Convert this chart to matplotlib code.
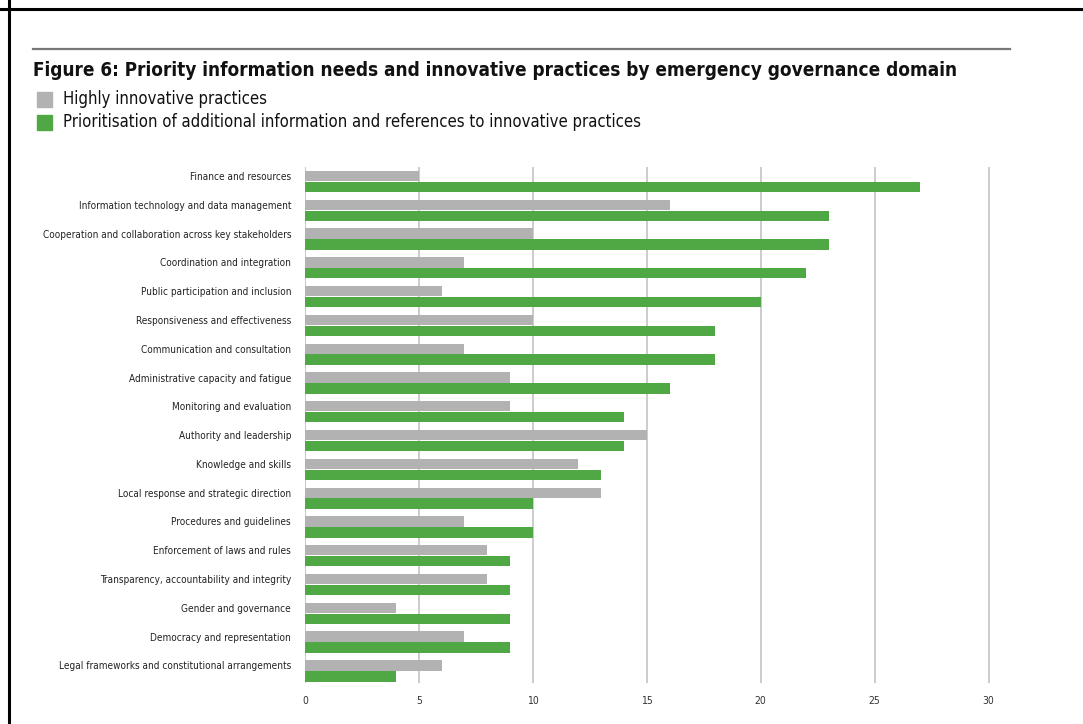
import numpy as np
import matplotlib
matplotlib.use("Agg")
import matplotlib.pyplot as plt
from matplotlib.lines import Line2D
from matplotlib.patches import Rectangle

plt.rcParams['font.family'] = ['DejaVu Sans']
plt.rcParams['font.stretch'] = 'condensed'

domains = [
    "Finance and resources",
    "Information technology and data management",
    "Cooperation and collaboration across key stakeholders",
    "Coordination and integration",
    "Public participation and inclusion",
    "Responsiveness and effectiveness",
    "Communication and consultation",
    "Administrative capacity and fatigue",
    "Monitoring and evaluation",
    "Authority and leadership",
    "Knowledge and skills",
    "Local response and strategic direction",
    "Procedures and guidelines",
    "Enforcement of laws and rules",
    "Transparency, accountability and integrity",
    "Gender and governance",
    "Democracy and representation",
    "Legal frameworks and constitutional arrangements",
]
innovative = [5, 16, 10, 7, 6, 10, 7, 9, 9, 15, 12, 13, 7, 8, 8, 4, 7, 6]
prioritised = [27, 23, 23, 22, 20, 18, 18, 16, 14, 14, 13, 10, 10, 9, 9, 9, 9, 4]
xticks = [0, 5, 10, 15, 20, 25, 30]

gray = "#b2b2b2"
green = "#4fa844"

fig = plt.figure(figsize=(10.83, 7.24), dpi=100)
ax = fig.add_axes([0.2816, 0.0566, 0.6344, 0.7127])

y = np.arange(len(domains))
off = 0.19
h = 0.36
ax.barh(y - off, innovative, height=h, color=gray, zorder=3)
ax.barh(y + off, prioritised, height=h, color=green, zorder=3)

ax.set_xlim(0, 30.15)
ax.set_ylim(17.42, -0.5)
ax.set_xticks(xticks)
ax.set_xticklabels([str(t) for t in xticks], fontsize=7.5, color="#333333")
ax.set_yticks(y - off)
ax.set_yticklabels(domains, fontsize=7.2, color="#222222")
ax.tick_params(axis="both", length=0)
ax.tick_params(axis="y", pad=10)
ax.tick_params(axis="x", pad=9)
ax.xaxis.grid(True, color="#c8c8c8", linewidth=1.3, zorder=0)
for s in ax.spines.values():
    s.set_visible(False)
ax.axvline(0, color="#c8c8c8", linewidth=1.3, zorder=1)

# frame edges, top rule
fig.add_artist(Line2D([0, 1], [1 - 8.5 / 724] * 2, color="black", linewidth=2.2))
fig.add_artist(Line2D([8.5 / 1083] * 2, [0, 1], color="black", linewidth=2.2))
fig.add_artist(Line2D([33 / 1083, 1010 / 1083], [1 - 49 / 724] * 2, color="#777777", linewidth=1.6))

fig.text(33 / 1083, 1 - 70 / 724, "Figure 6: Priority information needs and innovative practices by emergency governance domain",
         fontsize=13.6, fontweight="bold", va="center", ha="left", color="#111111")

legend_items = [(gray, "Highly innovative practices", 99),
                (green, "Prioritisation of additional information and references to innovative practices", 122)]
for col, lab, yp in legend_items:
    fig.add_artist(Rectangle((37 / 1083, 1 - (yp + 7.5) / 724), 15 / 1083, 15 / 724,
                             transform=fig.transFigure, color=col))
    fig.text(63 / 1083, 1 - yp / 724, lab, fontsize=12, va="center", ha="left", color="#111111")

fig.savefig("out.png", dpi=100)
